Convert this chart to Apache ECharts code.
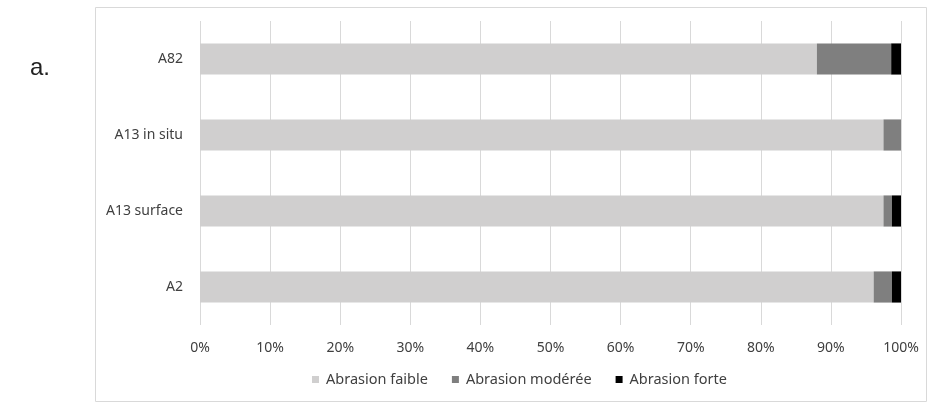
<!DOCTYPE html>
<html>
<head>
<meta charset="utf-8">
<script src="https://cdn.jsdelivr.net/npm/echarts@6/dist/echarts.min.js"></script>
<style>
  html, body { margin: 0; padding: 0; background: #fff; }
  #chart { width: 927px; height: 405px; }
</style>
</head>
<body>
<div id="chart"></div>
<script>
// Sites, listed bottom to top as the category axis draws them
const sites = ['A2', 'A13 surface', 'A13 in situ', 'A82'];
// Share of pieces in each abrasion class (%)
const abrasionFaible = [96.1, 97.5, 97.5, 88.0];
const abrasionModeree = [2.6, 1.2, 2.5, 10.6];
const abrasionForte = [1.3, 1.3, 0, 1.4];
const seriesNames = ['Abrasion faible', 'Abrasion modérée', 'Abrasion forte'];
const percentTicks = [0, 10, 20, 30, 40, 50, 60, 70, 80, 90, 100];

const colors = ['#d0cfcf', '#7f7f7f', '#000000'];
const font = '"Noto Sans", "Open Sans", sans-serif';

const chart = echarts.init(document.getElementById('chart'));
const values = [abrasionFaible, abrasionModeree, abrasionForte];

chart.setOption({
  animation: false,
  textStyle: { fontFamily: font },
  graphic: [
    {
      type: 'rect',
      shape: { x: 95.5, y: 7.5, width: 831, height: 394 },
      style: { fill: 'none', stroke: '#d9d9d9', lineWidth: 1 },
      silent: true
    },
    {
      type: 'text',
      left: 30,
      top: 56,
      style: { text: 'a.', font: '24px "Liberation Sans", Arial, sans-serif', fill: '#222' }
    }
  ],
  grid: { left: 200, right: 26, top: 21, height: 304, containLabel: false },
  legend: {
    data: seriesNames,
    bottom: 13,
    left: 307,
    itemWidth: 7,
    itemHeight: 7,
    itemGap: 24,
    icon: 'rect',
    textStyle: { fontSize: 14.5, color: '#404040', fontFamily: font, padding: [0, 0, 0, 2] }
  },
  xAxis: {
    type: 'value',
    min: percentTicks[0],
    max: percentTicks[percentTicks.length - 1],
    interval: 10,
    axisLine: { show: false },
    axisTick: { show: false },
    splitLine: { show: true, lineStyle: { color: '#d9d9d9', width: 1 } },
    axisLabel: {
      formatter: v => v + '%',
      fontSize: 14,
      color: '#404040',
      margin: 16
    }
  },
  yAxis: {
    type: 'category',
    data: sites,
    axisLine: { show: false },
    axisTick: { show: false },
    axisLabel: { fontSize: 14, color: '#404040', margin: 17 }
  },
  series: seriesNames.map((name, i) => ({
    name,
    type: 'bar',
    stack: 'total',
    barCategoryGap: '59%',
    itemStyle: { color: colors[i] },
    data: values[i]
  }))
});
</script>
</body>
</html>
